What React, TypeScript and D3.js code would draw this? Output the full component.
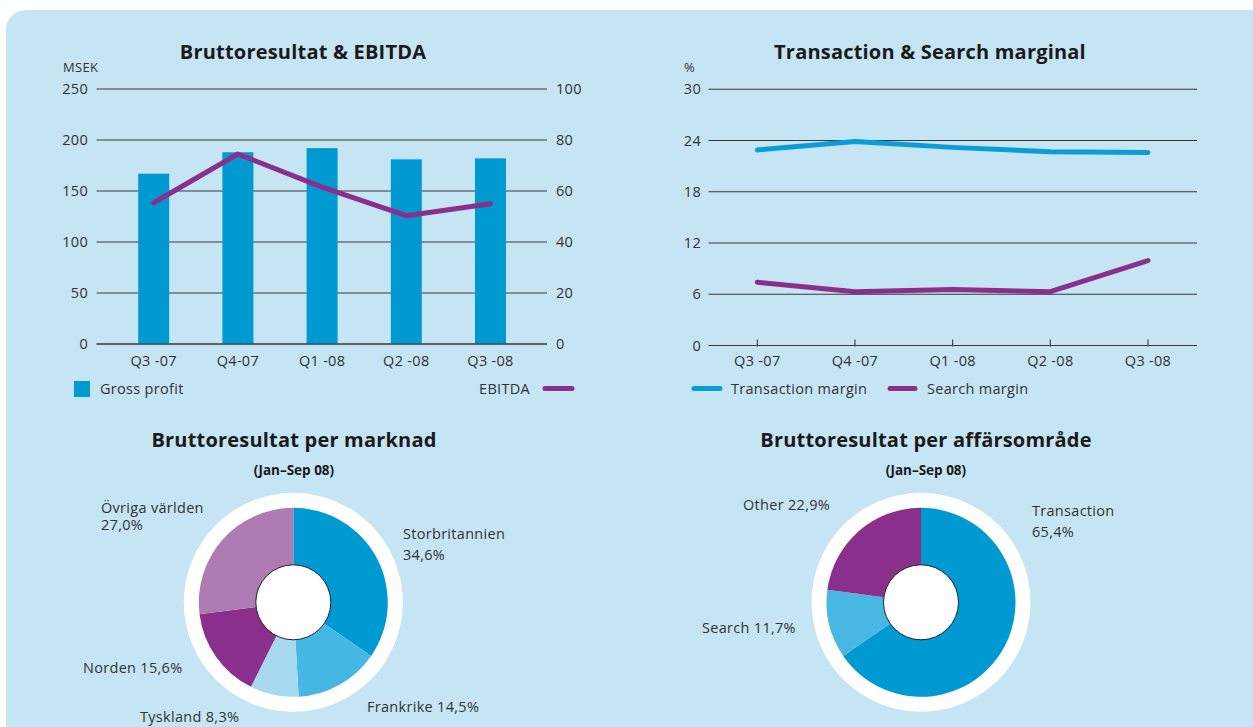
import React from "react";
import * as d3 from "d3";

const quarters = ["Q3 -07", "Q4-07", "Q1 -08", "Q2 -08", "Q3 -08"];
const quarters2 = ["Q3 -07", "Q4 -07", "Q1 -08", "Q2 -08", "Q3 -08"];
const grossProfit = [167, 188, 192, 181, 182];
const ebitda = [55.4, 74.5, 61.5, 50.3, 55];
const leftTicks = [0, 50, 100, 150, 200, 250];
const rightTicks = [0, 20, 40, 60, 80, 100];

const transactionMargin = [22.9, 23.9, 23.2, 22.7, 22.6];
const searchMargin = [7.4, 6.3, 6.55, 6.3, 9.95];
const marginTicks = [0, 6, 12, 18, 24, 30];

const marketLabels = ["Storbritannien", "Frankrike", "Tyskland", "Norden", "Övriga världen"];
const marketValues = [34.6, 14.5, 8.3, 15.6, 27.0];
const marketColors = ["#0099d1", "#45b7e3", "#a6d8ef", "#8b2f8d", "#ae7bb3"];

const areaLabels = ["Transaction", "Search", "Other"];
const areaValues = [65.4, 11.7, 22.9];
const areaColors = ["#0099d1", "#48b8e3", "#8b2f8d"];

const FONT = "'Open Sans', 'DejaVu Sans', sans-serif";
const TXT = "#333333";
const BLUE = "#0099d1";
const PURPLE = "#8b2f8d";
const GRID = "#3a3a3a";

function Donut({ cx, cy, values, colors }: { cx: number; cy: number; values: number[]; colors: string[] }) {
  const pie = d3.pie<number>().sort(null).value((d) => d);
  const arcs = pie(values);
  const arc = d3.arc<d3.PieArcDatum<number>>().innerRadius(0).outerRadius(94.5);
  return (
    <g transform={`translate(${cx},${cy})`}>
      <circle r={109.5} fill="#ffffff" />
      {arcs.map((a, i) => (
        <path key={i} d={arc(a) || ""} fill={colors[i]} />
      ))}
      <circle r={37.5} fill="#ffffff" stroke="#222" strokeWidth={1} />
    </g>
  );
}

export default function App() {
  const xL = d3.scalePoint<string>().domain(quarters).range([153.7, 490.5]);
  const yL = d3.scaleLinear().domain([0, 250]).range([344, 89]);
  const yR = d3.scaleLinear().domain([0, 100]).range([344, 89]);
  const barW = 31;
  const ebitdaLine = d3
    .line<number>()
    .x((_, i) => xL(quarters[i]) as number)
    .y((d) => yR(d));

  const xM = d3.scalePoint<string>().domain(quarters2).range([757.3, 1148]);
  const yM = d3.scaleLinear().domain([0, 30]).range([345.5, 89.3]);
  const mLine = d3
    .line<number>()
    .x((_, i) => xM(quarters2[i]) as number)
    .y((d) => yM(d));

  const fs = 14.5;
  const ls = 0.3;
  const T = (p: any) => <text fontSize={fs} fill={TXT} letterSpacing={ls} dy="0.35em" {...p} />;
  const TITLE = (p: any) => (
    <text textAnchor="middle" fontSize={20} fontWeight={700} fill="#1a1a1a" letterSpacing={0.2} {...p} />
  );

  return (
    <svg
      width={1253}
      height={727}
      style={{ position: "absolute", left: 0, top: 0, display: "block" }}
      fontFamily={FONT}
    >
      <rect x={0} y={0} width={1253} height={727} fill="#ffffff" />
      <rect x={6} y={10} width={1280} height={760} rx={20} ry={20} fill="#c5e4f4" />

      {/* Chart 1 */}
      <TITLE x={303} y={59}>Bruttoresultat &amp; EBITDA</TITLE>
      <text x={63} y={72} fontSize={13} fill={TXT} letterSpacing={0.3}>MSEK</text>
      {leftTicks.map((t) => (
        <g key={t}>
          <line x1={96.5} x2={547} y1={yL(t)} y2={yL(t)} stroke={GRID} strokeWidth={1.1} />
          <T x={88} y={yL(t)} textAnchor="end">{t}</T>
        </g>
      ))}
      {rightTicks.map((t) => (
        <T key={t} x={556} y={yR(t)}>{t}</T>
      ))}
      {grossProfit.map((v, i) => (
        <rect
          key={i}
          x={(xL(quarters[i]) as number) - barW / 2}
          y={yL(v)}
          width={barW}
          height={yL(0) - yL(v)}
          fill={BLUE}
        />
      ))}
      <line x1={96.5} x2={547} y1={yL(0)} y2={yL(0)} stroke={GRID} strokeWidth={1.1} />
      <path d={ebitdaLine(ebitda) || ""} fill="none" stroke={PURPLE} strokeWidth={5} strokeLinejoin="round" strokeLinecap="round" />
      {quarters.map((q) => (
        <T key={q} x={xL(q) as number} y={361} textAnchor="middle">{q}</T>
      ))}
      <rect x={74} y={381} width={16} height={16} fill={BLUE} />
      <T x={100} y={389}>Gross profit</T>
      <T x={530} y={389} textAnchor="end">EBITDA</T>
      <line x1={545} x2={572} y1={388.5} y2={388.5} stroke={PURPLE} strokeWidth={5} strokeLinecap="round" />

      {/* Chart 2 */}
      <TITLE x={930} y={59}>Transaction &amp; Search marginal</TITLE>
      <text x={684} y={72} fontSize={13} fill={TXT}>%</text>
      {marginTicks.map((t) => (
        <g key={t}>
          <line x1={708.5} x2={1197} y1={yM(t)} y2={yM(t)} stroke={GRID} strokeWidth={1.1} />
          <T x={701} y={yM(t)} textAnchor="end">{t}</T>
        </g>
      ))}
      {quarters2.map((q) => (
        <g key={q}>
          <line x1={xM(q) as number} x2={xM(q) as number} y1={yM(0) - 6} y2={yM(0) + 1} stroke={GRID} strokeWidth={1.1} />
          <T x={xM(q) as number} y={361} textAnchor="middle">{q}</T>
        </g>
      ))}
      <path d={mLine(transactionMargin) || ""} fill="none" stroke="#0a9dd8" strokeWidth={5} strokeLinejoin="round" strokeLinecap="round" />
      <path d={mLine(searchMargin) || ""} fill="none" stroke={PURPLE} strokeWidth={5} strokeLinejoin="round" strokeLinecap="round" />
      <line x1={694} x2={720} y1={388.5} y2={388.5} stroke="#0a9dd8" strokeWidth={5} strokeLinecap="round" />
      <T x={731} y={389}>Transaction margin</T>
      <line x1={890} x2={915} y1={388.5} y2={388.5} stroke={PURPLE} strokeWidth={5} strokeLinecap="round" />
      <T x={927} y={389}>Search margin</T>

      {/* Chart 3 */}
      <TITLE x={294} y={447}>Bruttoresultat per marknad</TITLE>
      <text x={294} y={470} dy="0.35em" textAnchor="middle" fontSize={13.5} fontWeight={700} fill="#1a1a1a">
        (Jan–Sep 08)
      </text>
      <Donut cx={293.3} cy={602.3} values={marketValues} colors={marketColors} />
      <T x={101} y={507.5}>{marketLabels[4]}</T>
      <T x={101} y={524.5}>27,0%</T>
      <T x={403} y={534}>{marketLabels[0]}</T>
      <T x={403} y={555}>34,6%</T>
      <T x={83} y={668}>{marketLabels[3]} 15,6%</T>
      <T x={367} y={707}>{marketLabels[1]} 14,5%</T>
      <T x={140} y={717}>{marketLabels[2]} 8,3%</T>

      {/* Chart 4 */}
      <TITLE x={926} y={447}>Bruttoresultat per affärsområde</TITLE>
      <text x={926} y={470} dy="0.35em" textAnchor="middle" fontSize={13.5} fontWeight={700} fill="#1a1a1a">
        (Jan–Sep 08)
      </text>
      <Donut cx={921} cy={602.3} values={areaValues} colors={areaColors} />
      <T x={1032} y={511}>{areaLabels[0]}</T>
      <T x={1032} y={532}>65,4%</T>
      <T x={743} y={505}>{areaLabels[2]} 22,9%</T>
      <T x={702} y={628}>{areaLabels[1]} 11,7%</T>
    </svg>
  );
}
